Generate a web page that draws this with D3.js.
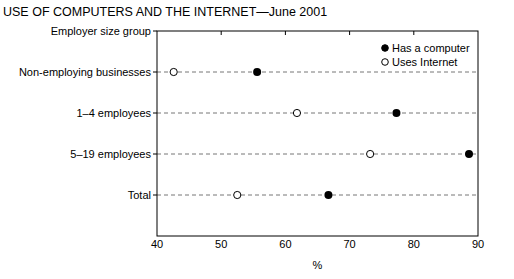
<!DOCTYPE html>
<html>
<head>
<meta charset="utf-8">
<script src="https://cdn.jsdelivr.net/npm/d3@7"></script>
<style>
body{margin:0;background:#fff;}
text{font-family:"Liberation Sans",Arial,sans-serif;fill:#000;}
</style>
</head>
<body>
<svg class="chart" width="514" height="279"></svg>
<script>
var groups = ["Non-employing businesses","1\u20134 employees","5\u201319 employees","Total"];
var hasComputer = [55.6,77.3,88.6,66.7];
var usesInternet = [42.6,61.8,73.2,52.5];
var xTicks = [40,50,60,70,80,90];

var w = 514, h = 279;
var m = {l:157,r:478,t:31,b:236};
var svg = d3.select("svg.chart");

var x = d3.scaleLinear().domain([40,90]).range([m.l,m.r]);
var y = d3.scalePoint().domain(["top"].concat(groups).concat(["bottom"])).range([m.t,m.b]);

svg.append("text")
    .attr("x",3)
    .attr("y",16)
    .attr("font-size",12.5)
    .text("USE OF COMPUTERS AND THE INTERNET\u2014June 2001");

// dashed row lines
svg.selectAll("line.row")
    .data(groups)
    .enter().append("line")
    .attr("class","row")
    .attr("x1",m.l).attr("x2",m.r)
    .attr("y1",function(d){return y(d);})
    .attr("y2",function(d){return y(d);})
    .attr("stroke","#777")
    .attr("stroke-dasharray","4,3");

// frame
svg.append("rect")
    .attr("x",m.l).attr("y",m.t)
    .attr("width",m.r-m.l).attr("height",m.b-m.t)
    .attr("fill","none").attr("stroke","#000");

// top ticks inward
svg.selectAll("line.ttick")
    .data(xTicks.slice(1,-1))
    .enter().append("line")
    .attr("x1",function(d){return x(d);})
    .attr("x2",function(d){return x(d);})
    .attr("y1",m.t).attr("y2",m.t+4)
    .attr("stroke","#000");

// bottom axis labels
svg.selectAll("text.xl")
    .data(xTicks)
    .enter().append("text")
    .attr("x",function(d){return x(d);})
    .attr("y",m.b+12)
    .attr("text-anchor","middle")
    .attr("font-size",11)
    .text(function(d){return d;});

svg.append("text")
    .attr("x",x(65))
    .attr("y",m.b+33)
    .attr("text-anchor","middle")
    .attr("font-size",11)
    .text("%");

// left labels and ticks
var cats = ["top"].concat(groups);
svg.selectAll("line.ltick")
    .data(cats)
    .enter().append("line")
    .attr("x1",m.l-4).attr("x2",m.l)
    .attr("y1",function(d){return y(d);})
    .attr("y2",function(d){return y(d);})
    .attr("stroke","#000");
svg.selectAll("text.yl")
    .data(cats)
    .enter().append("text")
    .attr("x",m.l-6)
    .attr("y",function(d){return y(d)+4;})
    .attr("text-anchor","end")
    .attr("font-size",11)
    .text(function(d){return d==="top" ? "Employer size group" : d;});

// markers
svg.selectAll("circle.comp")
    .data(groups)
    .enter().append("circle")
    .attr("cx",function(d,i){return x(hasComputer[i]);})
    .attr("cy",function(d){return y(d);})
    .attr("r",4)
    .attr("fill","#000");
svg.selectAll("circle.net")
    .data(groups)
    .enter().append("circle")
    .attr("cx",function(d,i){return x(usesInternet[i]);})
    .attr("cy",function(d){return y(d);})
    .attr("r",3.6)
    .attr("fill","#fff")
    .attr("stroke","#000");

// legend
var legend = [{t:"Has a computer",f:"#000"},{t:"Uses Internet",f:"#fff"}];
var lg = svg.selectAll("g.lg")
    .data(legend)
    .enter().append("g")
    .attr("transform",function(d,i){return "translate(385,"+(48+i*14)+")";});
lg.append("circle")
    .attr("r",3.3)
    .attr("fill",function(d){return d.f;})
    .attr("stroke","#000");
lg.append("text")
    .attr("x",7)
    .attr("y",4)
    .attr("font-size",11)
    .text(function(d){return d.t;});
</script>
</body>
</html>
